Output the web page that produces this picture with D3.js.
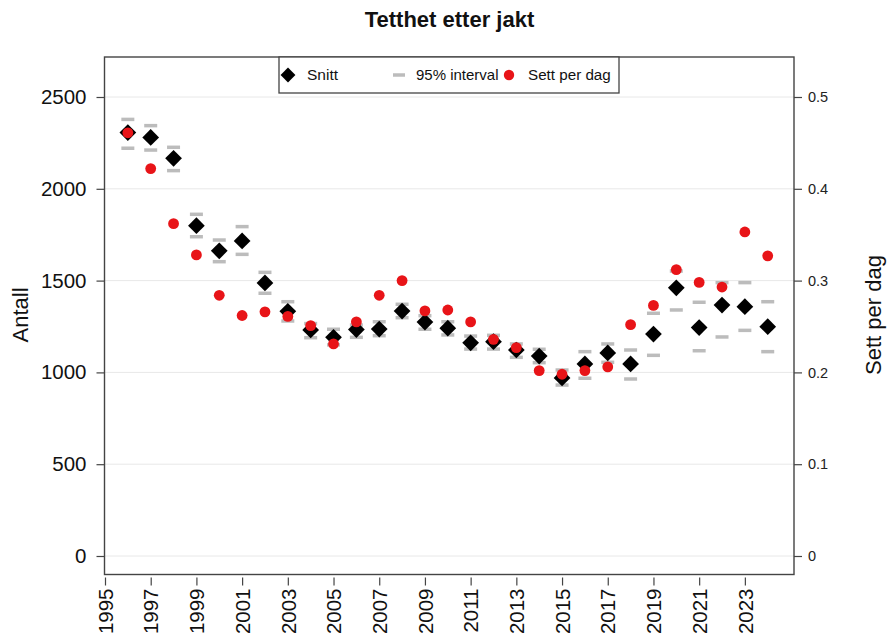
<!DOCTYPE html>
<html>
<head>
<meta charset="utf-8">
<script src="https://cdn.jsdelivr.net/npm/d3@7"></script>
<style>
  html, body { margin: 0; padding: 0; background: #fff; }
  svg { display: block; font-family: "Liberation Sans", Arial, Helvetica, sans-serif; }
</style>
</head>
<body>
<svg id="chart" width="887" height="642"></svg>
<script>
const years = [1996,1997,1998,1999,2000,2001,2002,2003,2004,2005,2006,2007,2008,2009,2010,2011,2012,2013,2014,2015,2016,2017,2018,2019,2020,2021,2022,2023,2024];
const snitt = [2306,2280,2166,1799,1662,1716,1487,1333,1231,1191,1233,1236,1334,1274,1241,1161,1167,1122,1089,970,1046,1106,1046,1209,1461,1244,1367,1358,1249];
const upper = [2378,2344,2226,1861,1721,1794,1545,1385,1266,1235,1258,1276,1371,1309,1276,1198,1202,1155,1126,1013,1113,1155,1122,1322,1552,1382,1489,1489,1385];
const lower = [2221,2211,2099,1739,1603,1643,1431,1280,1189,1150,1191,1200,1298,1235,1204,1127,1127,1082,1053,931,968,1055,964,1093,1340,1118,1193,1229,1113];
const settPerDag = [0.461,0.422,0.362,0.328,0.284,0.262,0.266,0.261,0.251,0.231,0.255,0.284,0.300,0.267,0.268,0.255,0.236,0.227,0.202,0.198,0.202,0.206,0.252,0.273,0.312,0.298,0.293,0.353,0.327];
const xTicks = [1995,1997,1999,2001,2003,2005,2007,2009,2011,2013,2015,2017,2019,2021,2023];
const yLeftTicks = [0,500,1000,1500,2000,2500];
const yRightTicks = [0,0.1,0.2,0.3,0.4,0.5];
const legendLabels = ["Snitt","95% interval","Sett per dag"];

const svg = d3.select("#chart");
const box = {left: 104.5, right: 794, top: 57, bottom: 574.5};

const x = d3.scaleLinear().domain([1995, 2025.15]).range([105, 794]);
const yL = d3.scaleLinear().domain([0, 2500]).range([556, 97]);
const yR = d3.scaleLinear().domain([0, 0.5]).range([556, 97]);

const axisColor = "#444";
const red = "#e81418";

// gridlines
svg.append("g").selectAll("line").data(yLeftTicks).join("line")
  .attr("x1", box.left).attr("x2", box.right)
  .attr("y1", d => yL(d)).attr("y2", d => yL(d))
  .attr("stroke", "#e8e8e8").attr("stroke-width", 1);

// left axis
const gL = svg.append("g").attr("transform", `translate(${box.left},0)`)
  .call(d3.axisLeft(yL).tickValues(yLeftTicks).tickSize(8).tickPadding(10).tickFormat(d3.format("d")));
gL.select(".domain").remove();
gL.selectAll("line").attr("stroke", axisColor).attr("stroke-width", 1.2);
gL.selectAll("text").attr("font-size", 20.5).attr("fill", "#111").attr("font-family", "Liberation Sans, Arial, sans-serif");

// right axis
const gR = svg.append("g").attr("transform", `translate(${box.right},0)`)
  .call(d3.axisRight(yR).tickValues(yRightTicks).tickSize(8).tickPadding(6).tickFormat(d => d === 0 ? "0" : d3.format(".1f")(d)));
gR.select(".domain").remove();
gR.selectAll("line").attr("stroke", axisColor).attr("stroke-width", 1.2);
gR.selectAll("text").attr("font-size", 14.5).attr("fill", "#222").attr("font-family", "Liberation Sans, Arial, sans-serif");

// bottom axis
const gB = svg.append("g").attr("transform", `translate(0,${box.bottom + 3})`)
  .call(d3.axisBottom(x).tickValues(xTicks).tickSize(8).tickPadding(9).tickFormat(d3.format("d")));
gB.select(".domain").remove();
gB.selectAll("line").attr("stroke", axisColor).attr("stroke-width", 1.2);
gB.selectAll("text")
  .attr("font-size", 20.5).attr("fill", "#111").attr("font-family", "Liberation Sans, Arial, sans-serif")
  .attr("text-anchor", "end")
  .attr("transform", "rotate(-90)")
  .attr("x", -11).attr("y", 0).attr("dy", "0.35em");

// box
svg.append("rect").attr("x", box.left).attr("y", box.top)
  .attr("width", box.right - box.left).attr("height", box.bottom - box.top)
  .attr("fill", "none").attr("stroke", axisColor).attr("stroke-width", 1.4);

// interval dashes
const dashW = 13;
const gI = svg.append("g");
years.forEach((yr, i) => {
  [upper[i], lower[i]].forEach(v => {
    gI.append("line")
      .attr("x1", x(yr) - dashW / 2).attr("x2", x(yr) + dashW / 2)
      .attr("y1", yL(v)).attr("y2", yL(v))
      .attr("stroke", "#bcbcbc").attr("stroke-width", 3.5);
  });
});

// diamonds
const diamond = d3.symbol().type(d3.symbolSquare).size(140);
svg.append("g").selectAll("path").data(years).join("path")
  .attr("d", diamond)
  .attr("transform", (d, i) => `translate(${x(d)},${yL(snitt[i])}) rotate(45)`)
  .attr("fill", "#000");

// red dots
svg.append("g").selectAll("circle").data(years).join("circle")
  .attr("cx", d => x(d)).attr("cy", (d, i) => yR(settPerDag[i]))
  .attr("r", 5.4).attr("fill", red);

// title
svg.append("text").attr("x", 449.5).attr("y", 27).attr("text-anchor", "middle")
  .attr("font-size", 22).attr("font-weight", "bold").attr("fill", "#111")
  .text("Tetthet etter jakt");

// axis titles
svg.append("text").attr("transform", "translate(28,315) rotate(-90)")
  .attr("text-anchor", "middle").attr("font-size", 22).attr("fill", "#111").text("Antall");
svg.append("text").attr("transform", "translate(881,315) rotate(-90)")
  .attr("text-anchor", "middle").attr("font-size", 22).attr("fill", "#111").text("Sett per dag");

// legend
const lg = svg.append("g");
lg.append("rect").attr("x", 279).attr("y", 57).attr("width", 340).attr("height", 36)
  .attr("fill", "#fff").attr("stroke", axisColor).attr("stroke-width", 1.3);
lg.append("path").attr("d", d3.symbol().type(d3.symbolSquare).size(110))
  .attr("transform", "translate(288,75) rotate(45)").attr("fill", "#000");
lg.append("text").attr("x", 307).attr("y", 75).attr("dy", "0.35em").attr("font-size", 15.5).attr("fill", "#111").text(legendLabels[0]);
lg.append("line").attr("x1", 393).attr("x2", 405).attr("y1", 75).attr("y2", 75)
  .attr("stroke", "#bcbcbc").attr("stroke-width", 3.5);
lg.append("text").attr("x", 416).attr("y", 75).attr("dy", "0.35em").attr("font-size", 15).attr("fill", "#111").text(legendLabels[1]);
lg.append("circle").attr("cx", 509).attr("cy", 75).attr("r", 5.2).attr("fill", red);
lg.append("text").attr("x", 528).attr("y", 75).attr("dy", "0.35em").attr("font-size", 15.2).attr("fill", "#111").text(legendLabels[2]);
</script>
</body>
</html>
